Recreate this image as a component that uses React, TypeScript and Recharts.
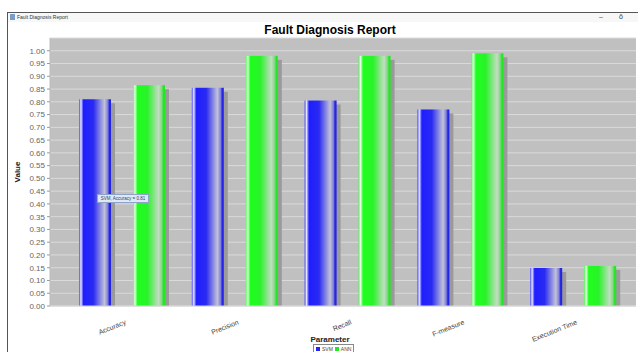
import { BarChart, Bar, XAxis, YAxis, CartesianGrid } from "recharts";

const categories = ["Accuracy", "Precision", "Recall", "F-measure", "Execution Time"];
const svmValues = [0.81, 0.855, 0.805, 0.77, 0.149];
const annValues = [0.865, 0.98, 0.98, 0.99, 0.157];
const yTicks = [
  0.0, 0.05, 0.1, 0.15, 0.2, 0.25, 0.3, 0.35, 0.4, 0.45, 0.5,
  0.55, 0.6, 0.65, 0.7, 0.75, 0.8, 0.85, 0.9, 0.95, 1.0,
];

const data = categories.map((name, i) => ({ name, SVM: svmValues[i], ANN: annValues[i] }));

const FONT = "'Liberation Sans', Arial, sans-serif";

const BLUE_STOPS: [number, string][] = [
  [0, "#4646ff"],
  [0.06, "#e6e6ff"],
  [0.14, "#1e1eff"],
  [0.45, "#2a2af2"],
  [0.8, "#c2c2d8"],
  [0.9, "#8080d8"],
  [0.95, "#2424e6"],
  [1, "#2424e6"],
];

const GREEN_STOPS: [number, string][] = [
  [0, "#46ff46"],
  [0.06, "#e6ffe6"],
  [0.14, "#1eff1e"],
  [0.45, "#2af22a"],
  [0.8, "#c4dcc4"],
  [0.9, "#80d880"],
  [0.95, "#24e624"],
  [1, "#24e624"],
];

function makeShape(id: string, stops: [number, string][]) {
  return (props: any) => {
    const { x, y, width, height, index } = props;
    if (!height || height <= 0) return <g />;
    const gid = `${id}-${index}`;
    return (
      <g>
        <defs>
          <linearGradient id={gid} x1="0" y1="0" x2="1" y2="0">
            {stops.map(([o, c]) => (
              <stop key={o} offset={o} stopColor={c} />
            ))}
          </linearGradient>
        </defs>
        <rect x={x + 4} y={y + 4} width={width} height={height - 4} fill="#9a9a9a" />
        <rect x={x} y={y} width={width} height={height} fill={`url(#${gid})`} />
      </g>
    );
  };
}

const XTick = (props: any) => {
  const { x, y, payload } = props;
  return (
    <g transform={`translate(${x + 4},${y + 10})`}>
      <text
        transform="rotate(-22)"
        textAnchor="end"
        fontSize={7}
        fontFamily={FONT}
        fill="#444"
      >
        {payload.value}
      </text>
    </g>
  );
};

const swatch = (color: string) => (
  <span style={{ width: 4, height: 4, background: color, display: "inline-block", flexShrink: 0 }} />
);

export default function App() {
  return (
    <div style={{ position: "absolute", left: 0, top: 0, width: 638, height: 352, background: "#fff", overflow: "hidden" }}>
      {/* window frame */}
      <div style={{ position: "absolute", left: 7, top: 12, width: 631, height: 340, borderLeft: "1px solid #555", borderTop: "1px solid #555" }} />
      <div style={{ position: "absolute", left: 8, top: 13, width: 630, height: 9, background: "#f7f7f7" }} />
      <div style={{ position: "absolute", left: 10, top: 14, width: 5, height: 6, background: "#7a9cc8" }} />
      <div style={{ position: "absolute", left: 17, top: 13, fontSize: 5, fontFamily: FONT, color: "#333", lineHeight: "9px" }}>
        Fault Diagnosis Report
      </div>
      <div style={{ position: "absolute", left: 599, top: 12, fontSize: 7, fontFamily: FONT, color: "#555", lineHeight: "9px" }}>–</div>
      <div style={{ position: "absolute", left: 619, top: 12, fontSize: 7, fontFamily: FONT, color: "#333", lineHeight: "9px" }}>ŏ</div>

      <div style={{ position: "absolute", left: 0, top: 23, width: 660, textAlign: "center", fontSize: 12, fontWeight: "bold", fontFamily: FONT, color: "#000" }}>
        Fault Diagnosis Report
      </div>

      <div style={{ position: "absolute", left: 0, top: 0 }}>
        <BarChart
          width={638}
          height={352}
          data={data}
          margin={{ top: 38, right: 2, left: 0, bottom: 0 }}
          barSize={32}
          barGap={22}
        >
          <CartesianGrid
            vertical={false}
            horizontal
            fill="#c0c0c0"
            stroke="#dadada"
            strokeWidth={1}
          />
          <XAxis
            dataKey="name"
            height={46}
            padding={{ left: 16, right: 6 }}
            tick={<XTick />}
            tickLine={false}
            axisLine={{ stroke: "#d4d4d4" }}
            interval={0}
          />
          <YAxis
            width={50}
            domain={[0, 1.05]}
            ticks={yTicks}
            interval={0}
            tickFormatter={(v: number) => v.toFixed(2)}
            tick={{ fontSize: 8, fontFamily: FONT, fill: "#666" }}
            tickSize={3}
            tickLine={{ stroke: "#999" }}
            axisLine={{ stroke: "#bbb" }}
            label={{
              value: "Value",
              angle: -90,
              position: "insideLeft",
              offset: 17,
              style: { fontSize: 8, fontWeight: "bold", fontFamily: FONT, fill: "#222", textAnchor: "middle" },
            }}
          />
          <Bar dataKey="SVM" isAnimationActive={false} shape={makeShape("svm", BLUE_STOPS)} />
          <Bar dataKey="ANN" isAnimationActive={false} shape={makeShape("ann", GREEN_STOPS)} />
        </BarChart>
      </div>

      {/* tooltip */}
      <div style={{ position: "absolute", left: 97, top: 194, width: 50, height: 7, background: "#dde8f8", border: "1px solid #8fa3c8", fontSize: 4.5, lineHeight: "7px", fontFamily: FONT, color: "#345", whiteSpace: "nowrap", textAlign: "center" }}>
        SVM, Accuracy = 0.81
      </div>

      <div style={{ position: "absolute", left: 0, top: 335, width: 660, textAlign: "center", fontSize: 8, fontWeight: "bold", fontFamily: FONT, color: "#222", lineHeight: "9px" }}>
        Parameter
      </div>
      <div style={{ position: "absolute", left: 313, top: 344, padding: "0 2px", height: 7, border: "1px solid #888", display: "flex", alignItems: "center", gap: 2, fontSize: 5, fontFamily: FONT, color: "#444", background: "#fff", whiteSpace: "nowrap" }}>
        {swatch("#2424f0")}
        <span>SVM</span>
        {swatch("#24e624")}
        <span>ANN</span>
      </div>
    </div>
  );
}
